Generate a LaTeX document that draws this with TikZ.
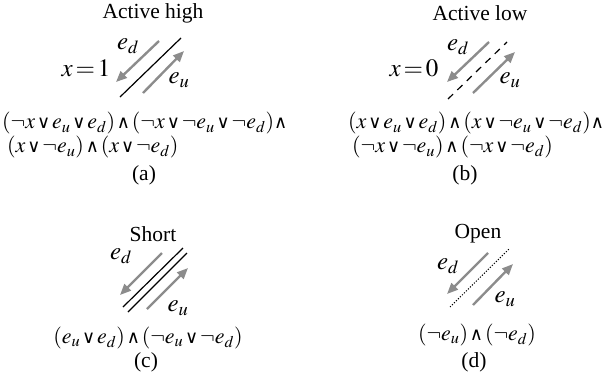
\documentclass[tikz,border=0pt]{standalone}
\usepackage{mathptmx}
\usepackage[no-math]{fontspec}
\setmainfont{Liberation Serif}
\newfontfamily\opfont{DejaVu Sans}
\usetikzlibrary{arrows.meta}
\definecolor{arrowgray}{RGB}{140,140,140}
\newcommand{\vorr}{\mathbin{\mbox{\opfont\fontsize{18}{18}\selectfont ∨}}}
\newcommand{\vand}{\mathbin{\mbox{\opfont\fontsize{18}{18}\selectfont ∧}}}
\medmuskip=1.5mu

\tikzset{
	garrow/.style={draw=arrowgray,line width=2.4pt,-{Triangle[length=11pt,width=9pt]}},
	wire/.style={line width=1.2pt},
	formula/.style={inner sep=0pt,align=left,font=\fontsize{22}{24}\selectfont},
	lbl/.style={font=\fontsize{25}{28}\selectfont},
}

\begin{document}
\begin{tikzpicture}[x=1pt,y=-1pt,font=\fontsize{21.5}{24}\selectfont]
\useasboundingbox (0,0) rectangle (607,386);
%
% (a) active high
	\node (ahTitle) at (153,13) {Active high};
	\node[lbl] (ahVal) at (86,68) {$x\!=\!1$};
	\node[lbl] (ahEd) at (128,46) {$e_d$};
	\node[lbl] (ahEu) at (179,80) {$e_u$};
	\draw[wire] (120,97) -- (181,38);
	\draw[garrow] (159,41) -- (116,82);
	\draw[garrow] (143,93) -- (184,51);
	\node[formula,anchor=north west] (ahForm) at (2,112) {$(\neg x\vorr e_u\vorr e_d)\vand(\neg x\vorr\neg e_u\vorr\neg e_d)\vand$\\
		\hspace*{5pt}$(x\vorr\neg e_u)\vand(x\vorr\neg e_d)$};
	\node (ahCap) at (144,175) {(a)};
%
% (b) active low
	\node (alTitle) at (480,13) {Active low};
	\node[lbl] (alVal) at (414,68) {$x\!=\!0$};
	\node[lbl] (alEd) at (458,47) {$e_d$};
	\node[lbl] (alEu) at (510,80) {$e_u$};
	\draw[wire,dash pattern=on 7pt off 6pt] (448,99) -- (507,42);
	\draw[garrow] (489,42) -- (447,82);
	\draw[garrow] (473,93) -- (515,52);
	\node[formula,anchor=north west] (alForm) at (348,112) {$(x\vorr e_u\vorr e_d)\vand(x\vorr\neg e_u\vorr\neg e_d)\vand$\\
		\hspace*{4pt}$(\neg x\vorr\neg e_u)\vand(\neg x\vorr\neg e_d)$};
	\node (alCap) at (465,175) {(b)};
%
% (c) short
	\node (shTitle) at (153,234) {Short};
	\node[lbl] (shEd) at (121,256) {$e_d$};
	\node[lbl] (shEu) at (178,308) {$e_u$};
	\draw[wire] (123,307) -- (183,248);
	\draw[wire] (128,312) -- (187,253);
	\draw[garrow] (162,253) -- (120,295);
	\draw[garrow] (147,309) -- (188,268);
	\node[formula] (shForm) at (148,338) {$(e_u\vorr e_d)\vand(\neg e_u\vorr\neg e_d)$};
	\node (shCap) at (146,362) {(c)};
%
% (d) open
	\node (opTitle) at (478,234) {Open};
	\node[lbl] (opEd) at (448,266) {$e_d$};
	\node[lbl] (opEu) at (505,299) {$e_u$};
	\draw[line width=1pt,dash pattern=on 1.2pt off 1.6pt] (450,307) -- (509,249);
	\draw[garrow] (488,253) -- (447,294);
	\draw[garrow] (473,305) -- (513,264);
	\node[formula] (opForm) at (477,335) {$(\neg e_u)\vand(\neg e_d)$};
	\node (opCap) at (474,362) {(d)};
%
\end{tikzpicture}
\end{document}
